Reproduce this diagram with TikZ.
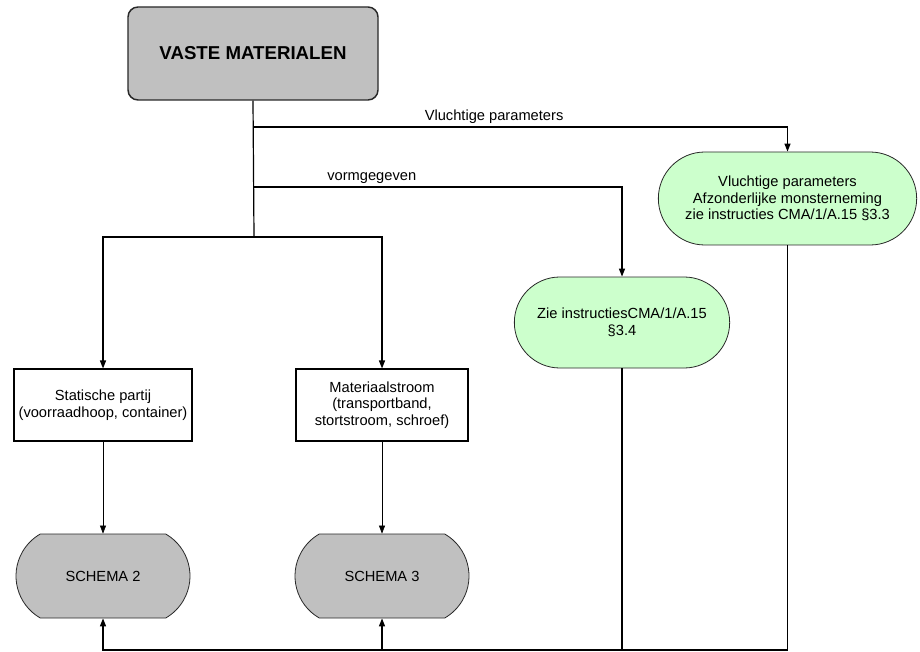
\documentclass[tikz,border=0pt]{standalone}
\usepackage{fontspec}
\setmainfont{Liberation Sans}
\usetikzlibrary{shapes.misc,arrows.meta}
\definecolor{boxgray}{RGB}{192,192,192}
\definecolor{boxgreen}{RGB}{204,255,204}
\definecolor{edge}{RGB}{40,40,40}
\begin{document}
\begin{tikzpicture}[x=0.75pt,y=-0.75pt,
  txt/.style={font=\fontsize{11}{12.5}\selectfont, align=center, inner sep=1pt},
  topbox/.style={txt, draw=edge, line width=1.1pt, fill=boxgray, rounded corners=7.5pt,
     minimum width=187.5pt, minimum height=69.75pt, font=\fontsize{14}{16}\selectfont\bfseries},
  greenbox/.style={txt, draw=edge, line width=0.6pt, fill=boxgreen, rounded rectangle},
  plainbox/.style={txt, draw=black, line width=0.8pt, fill=white, minimum width=133.5pt, minimum height=54pt},
  schemabox/.style={txt, draw=edge, line width=0.6pt, fill=boxgray, rounded rectangle,
     rounded rectangle arc length=120, minimum width=132.5pt, minimum height=63pt},
  conn/.style={draw=black, line width=0.9pt},
  arr/.style={conn, -{Triangle[length=6pt,width=4.5pt]}},
  thinarr/.style={draw=black, line width=0.5pt, -{Triangle[length=6pt,width=4.5pt]}},
  lbl/.style={font=\fontsize{11}{12.5}\selectfont, inner sep=2pt}
]
\useasboundingbox (0,0) rectangle (920,652);

\node[topbox] (top) at (253,53.5) {VASTE MATERIALEN};
\node[greenbox, minimum width=195.75pt, minimum height=69.75pt] (g1) at (787.5,198.5)
  {Vluchtige parameters\\Afzonderlijke monsterneming\\zie instructies CMA/1/A.15 §3.3};
\node[greenbox, minimum width=163.5pt, minimum height=68.25pt] (g2) at (622,322.5)
  {Zie instructiesCMA/1/A.15\\§3.4};
\node[plainbox] (stat) at (103,405) {Statische partij\\(voorraadhoop, container)};
\node[plainbox, minimum width=129pt] (mat) at (382,405) {Materiaalstroom\\(transportband,\\stortstroom, schroef)};
\node[schemabox] (s2) at (103,576) {SCHEMA 2};
\node[schemabox] (s3) at (382,576) {SCHEMA 3};

\coordinate (jv) at (254,127);
\coordinate (jf) at (254,187);
\coordinate (jb) at (254,237);
\coordinate (bot) at (0,650);

\draw[conn] (top.south) -- (jb);
\draw[arr] (jb) -| (stat.north);
\draw[arr] (jb) -| (mat.north);
\draw[arr] (jv) -| node[lbl, pos=0.225, above] {Vluchtige parameters} (g1.north);
\draw[arr] (jf) -| node[lbl, pos=0.16, above] {vormgegeven} (g2.north);
\draw[thinarr] (stat.south) -- (s2.north);
\draw[thinarr] (mat.south) -- (s3.north);
\draw[arr] (g1.south) |- (s2.south |- bot) -- (s2.south);
\draw[arr] (g2.south) |- (s3.south |- bot) -- (s3.south);
\end{tikzpicture}
\end{document}
